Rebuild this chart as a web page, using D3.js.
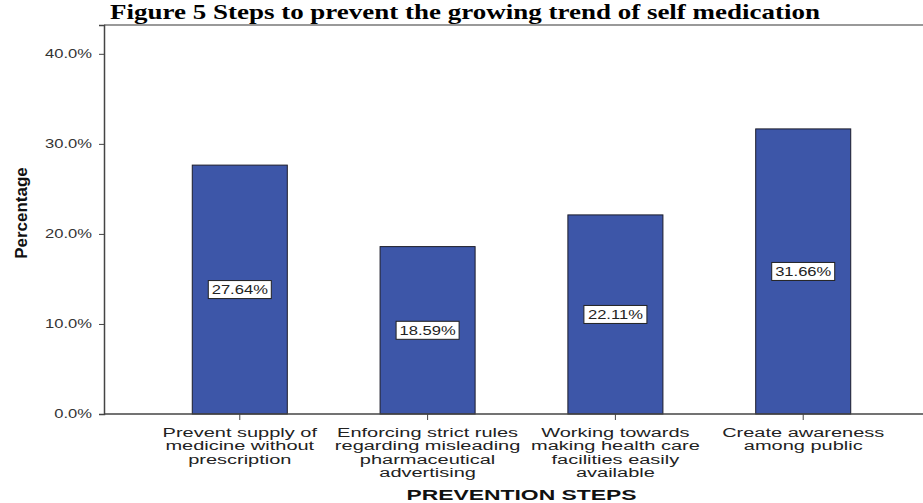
<!DOCTYPE html>
<html>
<head>
<meta charset="utf-8">
<script src="https://cdn.jsdelivr.net/npm/d3@7"></script>
<style>
  body { margin: 0; background: #fff; }
  svg { display: block; }
</style>
</head>
<body>
<svg id="chart"></svg>
<script>
// data
const steps = [
  ["Prevent supply of", "medicine without", "prescription"],
  ["Enforcing strict rules", "regarding misleading", "pharmaceutical", "advertising"],
  ["Working towards", "making health care", "facilities easily", "available"],
  ["Create awareness", "among public"]
];
const percents = [27.64, 18.59, 22.11, 31.66];
const yTicks = [0, 10, 20, 30, 40];

const W = 923, H = 503;
const svg = d3.select("#chart").attr("width", W).attr("height", H);

const mLeft = 104, mTop = 25, mBottom = 414;
// the original figure is stretched sideways, so text gets a horizontal scale
const sx = 1.6, sxSmall = 1.38;

// title
svg.append("text")
  .attr("x", 465).attr("y", 19)
  .attr("text-anchor", "middle")
  .attr("textLength", 710)
  .attr("lengthAdjust", "spacingAndGlyphs")
  .style("font-family", "Liberation Serif, Times New Roman, serif")
  .style("font-weight", "bold")
  .style("font-size", "22px")
  .text("Figure  5 Steps to prevent the growing trend of self medication");

const x = d3.scaleBand()
  .domain(d3.range(steps.length))
  .range([mLeft, 939])
  .paddingInner(0.494)
  .paddingOuter(0.47);

const y = d3.scaleLinear()
  .domain([0, 43.2])
  .range([mBottom, mTop]);

// frame: top line
svg.append("line")
  .attr("x1", mLeft).attr("x2", W).attr("y1", mTop).attr("y2", mTop)
  .attr("stroke", "#777").attr("stroke-width", 1.5);

// bars
svg.selectAll("rect.bar")
  .data(percents)
  .enter()
  .append("rect")
  .attr("class", "bar")
  .attr("x", (d, i) => x(i))
  .attr("y", d => y(d))
  .attr("width", x.bandwidth())
  .attr("height", d => mBottom - y(d))
  .attr("fill", "#3d56a8")
  .attr("stroke", "#1c1c2a")
  .attr("stroke-width", 1);

// y axis
const yAxis = svg.append("g")
  .attr("transform", `translate(${mLeft},0)`)
  .call(d3.axisLeft(y).tickValues(yTicks).tickSize(5).tickFormat(d => d.toFixed(1) + "%"));
yAxis.select(".domain").attr("stroke", "#444").attr("stroke-width", 1.5);
yAxis.selectAll(".tick line").attr("stroke", "#444");
yAxis.selectAll(".tick text")
  .attr("x", -12 / sxSmall)
  .style("font-family", "Liberation Sans, Arial, sans-serif")
  .style("font-size", "12px")
  .style("fill", "#333")
  .attr("transform", `scale(${sxSmall},1)`);

// x axis
const xAxis = svg.append("g")
  .attr("transform", `translate(0,${mBottom})`)
  .call(d3.axisBottom(x).tickSize(6).tickFormat(""));
xAxis.select(".domain").attr("d", `M${mLeft},0H${W}`).attr("stroke", "#444").attr("stroke-width", 1.5);
xAxis.selectAll(".tick line").attr("stroke", "#444");

// category labels, several lines each
const lab = svg.selectAll("text.cat")
  .data(steps)
  .enter()
  .append("text")
  .attr("class", "cat")
  .attr("text-anchor", "middle")
  .attr("transform", `scale(${sx},1)`)
  .style("font-family", "Liberation Sans, Arial, sans-serif")
  .style("font-size", "12.5px")
  .style("fill", "#222");
lab.each(function(lines, i) {
  const cx = x(i) + x.bandwidth() / 2;
  d3.select(this).selectAll("tspan")
    .data(lines)
    .enter()
    .append("tspan")
    .attr("x", cx / sx)
    .attr("y", (d, j) => 437 + j * 13.5)
    .text(d => d);
});

// value boxes in the middle of the bars
const boxes = svg.selectAll("g.val")
  .data(percents)
  .enter()
  .append("g")
  .attr("class", "val")
  .attr("transform", (d, i) => `translate(${x(i) + x.bandwidth() / 2},${(y(d) + mBottom) / 2})`);
boxes.append("rect")
  .attr("x", -31.5).attr("y", -9)
  .attr("width", 63).attr("height", 18)
  .attr("fill", "#fff")
  .attr("stroke", "#222").attr("stroke-width", 1);
boxes.append("text")
  .attr("text-anchor", "middle")
  .attr("y", 4.5)
  .attr("transform", `scale(${sxSmall},1)`)
  .style("font-family", "Liberation Sans, Arial, sans-serif")
  .style("font-size", "12px")
  .style("fill", "#222")
  .text(d => d.toFixed(2) + "%");

// axis titles
const xMid = (x(0) + x(steps.length - 1) + x.bandwidth()) / 2;
svg.append("text")
  .attr("x", xMid).attr("y", 500)
  .attr("text-anchor", "middle")
  .attr("textLength", 230)
  .attr("lengthAdjust", "spacingAndGlyphs")
  .style("font-family", "Liberation Sans, Arial, sans-serif")
  .style("font-weight", "bold")
  .style("font-size", "14.5px")
  .style("fill", "#111")
  .text("PREVENTION STEPS");

svg.append("text")
  .attr("transform", "translate(27,213) rotate(-90)")
  .attr("text-anchor", "middle")
  .style("font-family", "Liberation Sans Narrow, Arial Narrow, sans-serif")
  .style("font-weight", "bold")
  .style("font-size", "17px")
  .style("fill", "#111")
  .text("Percentage");
</script>
</body>
</html>
